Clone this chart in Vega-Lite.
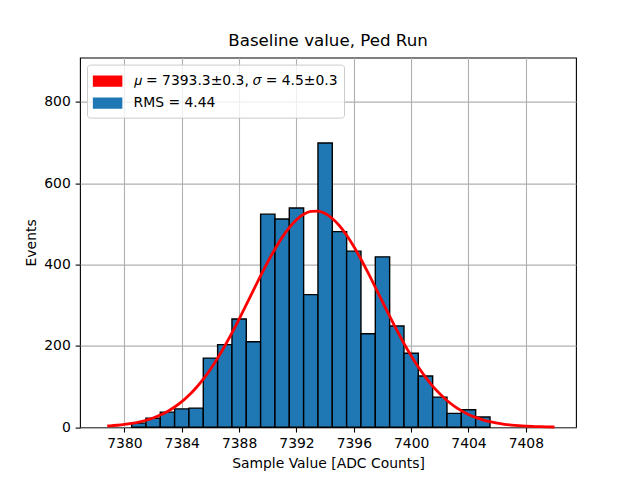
{
  "$schema": "https://vega.github.io/schema/vega-lite/v6.json",
  "width": 496,
  "height": 369.6,
  "autosize": {"type": "none"},
  "padding": {"left": 80, "top": 57.6, "right": 64, "bottom": 52.8},
  "background": "white",
  "title": {
    "text": "Baseline value, Ped Run",
    "font": "DejaVu Sans",
    "fontSize": 16.67,
    "fontWeight": "normal",
    "color": "black",
    "anchor": "middle",
    "offset": 8.3
  },
  "datasets": {
    "hist": [
      {"bin_start": 7380.5, "bin_end": 7381.5, "events": 10},
      {"bin_start": 7381.5, "bin_end": 7382.5, "events": 22},
      {"bin_start": 7382.5, "bin_end": 7383.5, "events": 37},
      {"bin_start": 7383.5, "bin_end": 7384.5, "events": 45},
      {"bin_start": 7384.5, "bin_end": 7385.5, "events": 47},
      {"bin_start": 7385.5, "bin_end": 7386.5, "events": 170},
      {"bin_start": 7386.5, "bin_end": 7387.5, "events": 203},
      {"bin_start": 7387.5, "bin_end": 7388.5, "events": 266},
      {"bin_start": 7388.5, "bin_end": 7389.5, "events": 210},
      {"bin_start": 7389.5, "bin_end": 7390.5, "events": 524},
      {"bin_start": 7390.5, "bin_end": 7391.5, "events": 512},
      {"bin_start": 7391.5, "bin_end": 7392.5, "events": 539},
      {"bin_start": 7392.5, "bin_end": 7393.5, "events": 326},
      {"bin_start": 7393.5, "bin_end": 7394.5, "events": 699},
      {"bin_start": 7394.5, "bin_end": 7395.5, "events": 481},
      {"bin_start": 7395.5, "bin_end": 7396.5, "events": 433},
      {"bin_start": 7396.5, "bin_end": 7397.5, "events": 230},
      {"bin_start": 7397.5, "bin_end": 7398.5, "events": 419},
      {"bin_start": 7398.5, "bin_end": 7399.5, "events": 249},
      {"bin_start": 7399.5, "bin_end": 7400.5, "events": 182},
      {"bin_start": 7400.5, "bin_end": 7401.5, "events": 126},
      {"bin_start": 7401.5, "bin_end": 7402.5, "events": 74},
      {"bin_start": 7402.5, "bin_end": 7403.5, "events": 34},
      {"bin_start": 7403.5, "bin_end": 7404.5, "events": 43},
      {"bin_start": 7404.5, "bin_end": 7405.5, "events": 25}
    ],
    "fit": [
      {"x": 7378.8, "y": 3.0},
      {"x": 7379.0, "y": 3.4},
      {"x": 7379.5, "y": 4.8},
      {"x": 7380.0, "y": 6.7},
      {"x": 7380.5, "y": 9.3},
      {"x": 7381.0, "y": 12.7},
      {"x": 7381.5, "y": 17.1},
      {"x": 7382.0, "y": 22.7},
      {"x": 7382.5, "y": 29.9},
      {"x": 7383.0, "y": 38.7},
      {"x": 7383.5, "y": 49.7},
      {"x": 7384.0, "y": 62.8},
      {"x": 7384.5, "y": 78.6},
      {"x": 7385.0, "y": 97.1},
      {"x": 7385.5, "y": 118.4},
      {"x": 7386.0, "y": 142.7},
      {"x": 7386.5, "y": 169.9},
      {"x": 7387.0, "y": 199.7},
      {"x": 7387.5, "y": 231.8},
      {"x": 7388.0, "y": 265.9},
      {"x": 7388.5, "y": 301.2},
      {"x": 7389.0, "y": 337.0},
      {"x": 7389.5, "y": 372.5},
      {"x": 7390.0, "y": 406.6},
      {"x": 7390.5, "y": 438.4},
      {"x": 7391.0, "y": 466.9},
      {"x": 7391.5, "y": 491.1},
      {"x": 7392.0, "y": 510.3},
      {"x": 7392.5, "y": 523.7},
      {"x": 7393.0, "y": 530.8},
      {"x": 7393.5, "y": 531.5},
      {"x": 7394.0, "y": 525.6},
      {"x": 7394.5, "y": 513.4},
      {"x": 7395.0, "y": 495.4},
      {"x": 7395.5, "y": 472.1},
      {"x": 7396.0, "y": 444.4},
      {"x": 7396.5, "y": 413.1},
      {"x": 7397.0, "y": 379.4},
      {"x": 7397.5, "y": 344.2},
      {"x": 7398.0, "y": 308.4},
      {"x": 7398.5, "y": 272.9},
      {"x": 7399.0, "y": 238.5},
      {"x": 7399.5, "y": 205.9},
      {"x": 7400.0, "y": 175.6},
      {"x": 7400.5, "y": 147.9},
      {"x": 7401.0, "y": 123.1},
      {"x": 7401.5, "y": 101.1},
      {"x": 7402.0, "y": 82.1},
      {"x": 7402.5, "y": 65.8},
      {"x": 7403.0, "y": 52.1},
      {"x": 7403.5, "y": 40.8},
      {"x": 7404.0, "y": 31.5},
      {"x": 7404.5, "y": 24.1},
      {"x": 7405.0, "y": 18.1},
      {"x": 7405.5, "y": 13.5},
      {"x": 7406.0, "y": 9.9},
      {"x": 7406.5, "y": 7.2},
      {"x": 7407.0, "y": 5.2},
      {"x": 7407.5, "y": 3.7},
      {"x": 7408.0, "y": 2.6},
      {"x": 7408.5, "y": 1.8},
      {"x": 7409.0, "y": 1.2},
      {"x": 7409.5, "y": 0.8},
      {"x": 7410.0, "y": 0.5}
    ]
  },
  "layer": [
    {
      "data": {"name": "hist"},
      "mark": {"type": "rect", "stroke": "black", "strokeWidth": 1.4, "opacity": 1},
      "encoding": {
        "x": {
          "field": "bin_start",
          "type": "quantitative",
          "scale": {"domain": [7376.9, 7411.5], "nice": false, "zero": false},
          "axis": {"title": "Sample Value [ADC Counts]", "values": [7380, 7384, 7388, 7392, 7396, 7400, 7404, 7408], "format": "d"}
        },
        "x2": {"field": "bin_end"},
        "y": {
          "field": "events",
          "type": "quantitative",
          "scale": {"domain": [0, 909], "nice": false},
          "axis": {"title": "Events", "values": [0, 200, 400, 600, 800], "format": "d"}
        },
        "y2": {"datum": 0},
        "color": {
          "datum": "RMS = 4.44",
          "type": "nominal",
          "scale": {
            "domain": ["\ud835\udf07 = 7393.3\u00b10.3, \ud835\udf0e = 4.5\u00b10.3", "RMS = 4.44"],
            "range": ["red", "#1f77b4"]
          },
          "legend": {
            "title": null,
            "orient": "top-left",
            "offset": 6.9,
            "padding": 5.6,
            "zindex": 2,
            "fillColor": "rgba(255,255,255,0.8)",
            "strokeColor": "#cccccc",
            "cornerRadius": 2.8,
            "labelFont": "DejaVu Sans",
            "labelFontSize": 13.9,
            "labelColor": "black",
            "labelLimit": 400,
            "symbolSize": 400,
            "symbolOffset": 4,
            "labelOffset": 15,
            "rowPadding": 3,
            "symbolType": "M-1.4,-0.485H1.4V0.485H-1.4Z",
            "encode": {
              "symbols": {
                "update": {
                  "shape": {"value": {"signal": "datum.value === 'RMS = 4.44' ? 'M-1.4,-0.485H1.4V0.485H-1.4Z' : 'M-1.4,0H1.4'"}},
                  "fill": {"value": {"signal": "datum.value === 'RMS = 4.44' ? '#1f77b4' : 'transparent'"}},
                  "stroke": {"value": {"signal": "datum.value === 'RMS = 4.44' ? 'black' : 'red'"}},
                  "strokeWidth": {"value": {"signal": "datum.value === 'RMS = 4.44' ? 1.4 : 2.78"}},
                  "opacity": {"value": 1}
                }
              }
            }
          }
        }
      }
    },
    {
      "data": {"name": "fit"},
      "mark": {"type": "line", "strokeWidth": 2.78, "interpolate": "monotone"},
      "encoding": {
        "x": {"field": "x", "type": "quantitative"},
        "y": {"field": "y", "type": "quantitative"},
        "color": {"datum": "\ud835\udf07 = 7393.3\u00b10.3, \ud835\udf0e = 4.5\u00b10.3", "type": "nominal"}
      }
    }
  ],
  "config": {
    "view": {"stroke": "black", "strokeWidth": 1.1},
    "axis": {
      "domain": false,
      "grid": true,
      "gridColor": "#b0b0b0",
      "gridWidth": 1.1,
      "zindex": 1,
      "ticks": true,
      "tickColor": "black",
      "tickWidth": 1.1,
      "tickSize": 4.86,
      "labelPadding": 4.86,
      "labelFont": "DejaVu Sans",
      "labelFontSize": 13.9,
      "labelColor": "black",
      "titleFont": "DejaVu Sans",
      "titleFontSize": 13.9,
      "titleFontWeight": "normal",
      "titleColor": "black",
      "titlePadding": 5.6
    }
  }
}
